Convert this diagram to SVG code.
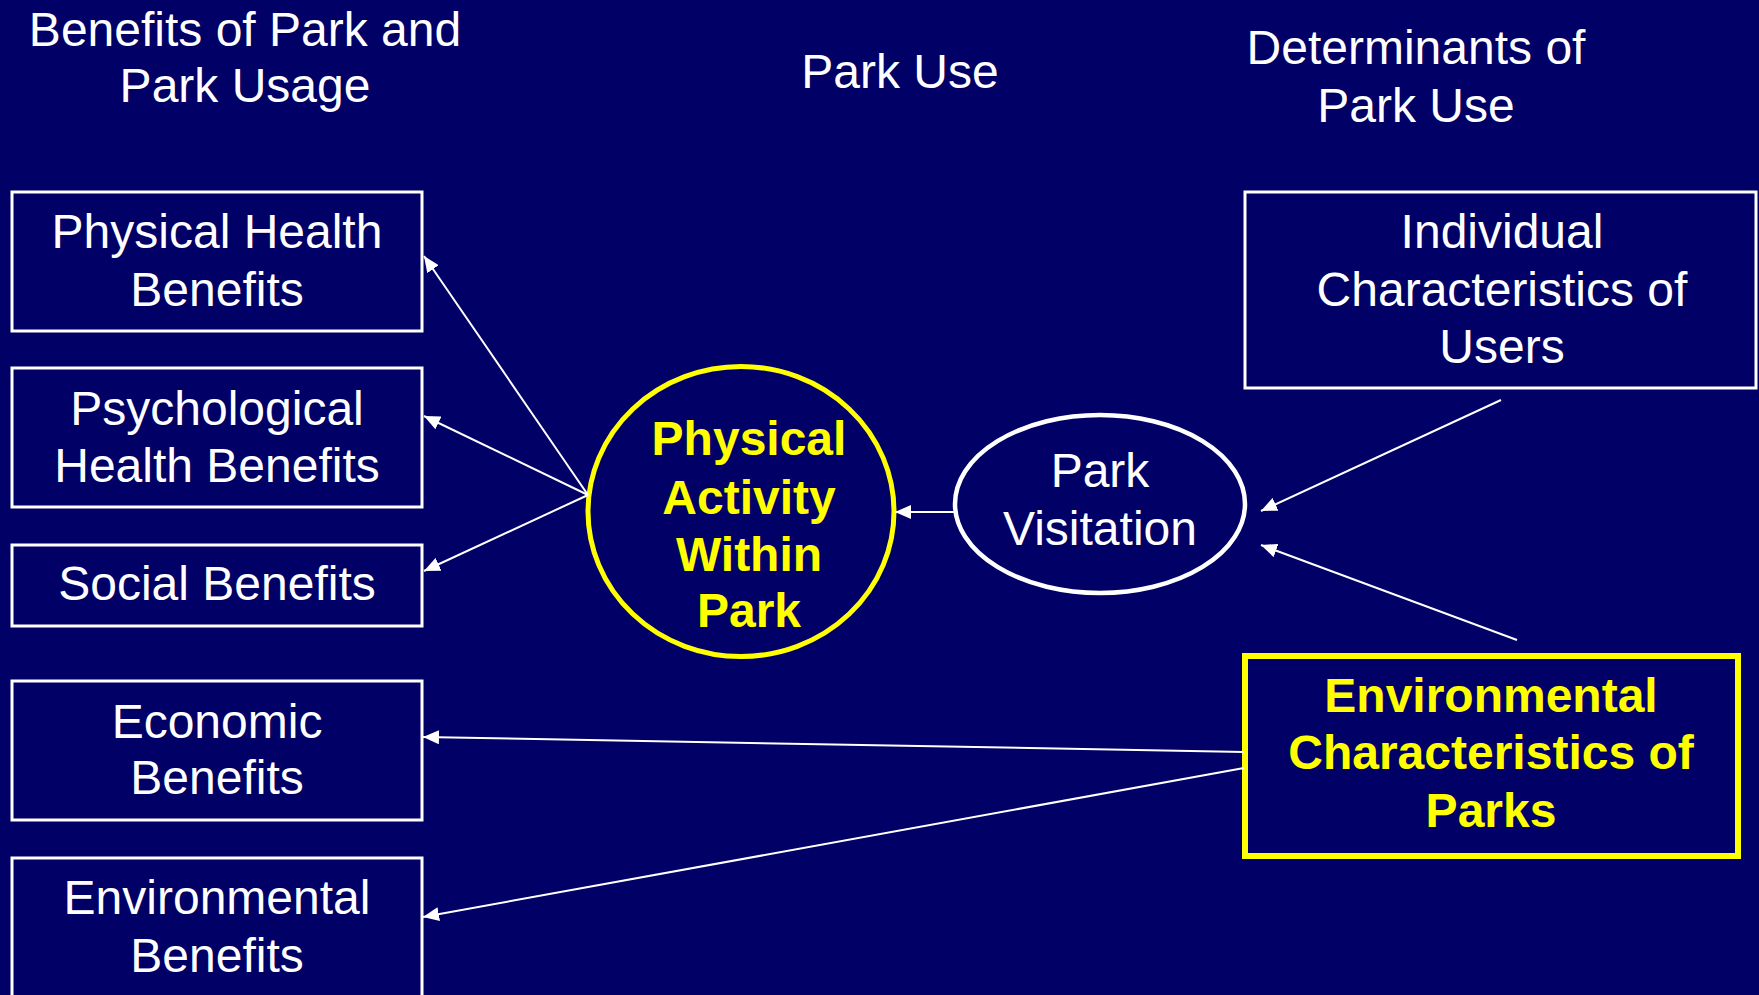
<svg xmlns="http://www.w3.org/2000/svg" width="1759" height="995" viewBox="0 0 1759 995">
<style>
.bg{fill:#000066}
.box{fill:#000066;stroke:#ffffff;stroke-width:3}
.ybox{fill:#000066;stroke:#ffff00;stroke-width:6}
.t{font-family:"Liberation Sans",Arial,sans-serif;font-size:48px;fill:#ffffff;text-anchor:middle}
.y{font-family:"Liberation Sans",Arial,sans-serif;font-size:48px;font-weight:bold;fill:#ffff00;text-anchor:middle}
.c{stroke:#ffffff;stroke-width:2;fill:none;marker-end:url(#ah)}
</style>
<defs>
<marker id="ah" markerUnits="userSpaceOnUse" markerWidth="18" markerHeight="14" refX="16" refY="7" orient="auto">
<path d="M0,0 L16,7 L0,14 Z" fill="#ffffff"/>
</marker>
</defs>
<rect class="bg" x="0" y="0" width="1759" height="995"/>
<g id="headers">
<text class="t" x="245" y="46">Benefits of Park and</text>
<text class="t" x="245" y="102">Park Usage</text>
<text class="t" x="900" y="88">Park Use</text>
<text class="t" x="1416" y="64">Determinants of</text>
<text class="t" x="1416" y="122">Park Use</text>
</g>
<g id="physical-health">
<rect class="box" x="12" y="192" width="410" height="139"/>
<text class="t" x="217" y="248">Physical Health</text>
<text class="t" x="217" y="306">Benefits</text>
</g>
<g id="psychological-health">
<rect class="box" x="12" y="368" width="410" height="139"/>
<text class="t" x="217" y="425">Psychological</text>
<text class="t" x="217" y="482">Health Benefits</text>
</g>
<g id="social">
<rect class="box" x="12" y="545" width="410" height="81"/>
<text class="t" x="217" y="600">Social Benefits</text>
</g>
<g id="economic">
<rect class="box" x="12" y="681" width="410" height="139"/>
<text class="t" x="217" y="738">Economic</text>
<text class="t" x="217" y="794">Benefits</text>
</g>
<g id="environmental-benefits">
<rect class="box" x="12" y="858" width="410" height="150"/>
<text class="t" x="217" y="914">Environmental</text>
<text class="t" x="217" y="972">Benefits</text>
</g>
<g id="physical-activity">
<ellipse cx="741" cy="511.5" rx="153" ry="145" fill="#000066" stroke="#ffff00" stroke-width="5"/>
<text class="y" x="749" y="455">Physical</text>
<text class="y" x="749" y="514">Activity</text>
<text class="y" x="749" y="571">Within</text>
<text class="y" x="749" y="627">Park</text>
</g>
<g id="park-visitation">
<ellipse cx="1100" cy="504" rx="145" ry="89" fill="#000066" stroke="#ffffff" stroke-width="4.5"/>
<text class="t" x="1100" y="487">Park</text>
<text class="t" x="1100" y="545">Visitation</text>
</g>
<g id="individual">
<rect class="box" x="1245" y="192" width="511" height="196"/>
<text class="t" x="1502" y="248">Individual</text>
<text class="t" x="1502" y="306">Characteristics of</text>
<text class="t" x="1502" y="363">Users</text>
</g>
<g id="environmental-characteristics">
<rect class="ybox" x="1245" y="656" width="493" height="200"/>
<text class="y" x="1491" y="712">Environmental</text>
<text class="y" x="1491" y="769">Characteristics of</text>
<text class="y" x="1491" y="827">Parks</text>
</g>
<g id="connectors">
<line class="c" x1="588" y1="495" x2="424" y2="256"/>
<line class="c" x1="588" y1="495" x2="424" y2="416"/>
<line class="c" x1="588" y1="495" x2="424" y2="571"/>
<line class="c" x1="957" y1="512" x2="895" y2="512"/>
<line class="c" x1="1501" y1="400" x2="1261" y2="511"/>
<line class="c" x1="1517" y1="640" x2="1261" y2="545"/>
<line class="c" x1="1244" y1="752" x2="423" y2="737"/>
<line class="c" x1="1244" y1="768" x2="423" y2="917"/>
</g>
</svg>
